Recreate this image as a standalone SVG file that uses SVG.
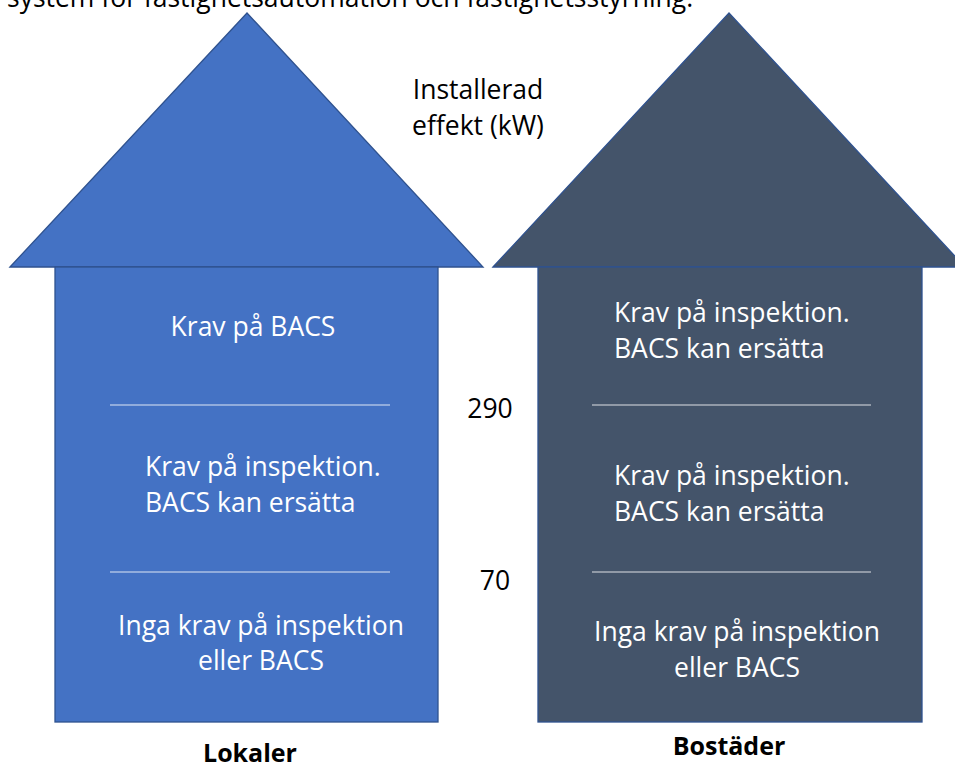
<svg xmlns="http://www.w3.org/2000/svg" width="955" height="766" viewBox="0 0 955 766">
  <style>
    .t { font-family: "Open Sans", "Liberation Sans", sans-serif; font-size: 26.5px; }
    .w { fill: #ffffff; }
    .k { fill: #000000; }
    .c { text-anchor: middle; }
    .b { font-weight: bold; font-size: 25px; }
    .lok { fill: #4472C4; stroke: #2F528F; stroke-width: 1.3; }
    .bos { fill: #44546A; stroke: #2F528F; stroke-width: 1.3; }
    .div { stroke: #ffffff; stroke-opacity: 0.55; stroke-width: 1.5; }
  </style>

  <!-- caption line running off the top edge -->
  <text class="t k" x="7" y="7">system för fastighetsautomation och fastighetsstyrning.</text>

  <!-- commercial premises -->
  <g id="lokaler">
    <polygon class="lok" points="10,267 247,13 483,267"/>
    <rect class="lok" x="55" y="267" width="383" height="455"/>
    <line class="div" x1="110" y1="405" x2="390" y2="405"/>
    <line class="div" x1="110" y1="572" x2="390" y2="572"/>
    <text class="t w c" x="253" y="336">Krav på BACS</text>
    <text class="t w" x="145" y="476">Krav på inspektion.</text>
    <text class="t w" x="145" y="512">BACS kan ersätta</text>
    <text class="t w c" x="261" y="635">Inga krav på inspektion</text>
    <text class="t w c" x="261" y="670">eller BACS</text>
    <text class="t k c b" x="250" y="762">Lokaler</text>
  </g>

  <!-- residential buildings -->
  <g id="bostader">
    <polygon class="bos" points="493,267 729,13 965,267"/>
    <rect class="bos" x="538" y="267" width="384" height="455"/>
    <line class="div" x1="592" y1="405" x2="871" y2="405"/>
    <line class="div" x1="592" y1="572" x2="871" y2="572"/>
    <text class="t w" x="614" y="322">Krav på inspektion.</text>
    <text class="t w" x="614" y="358">BACS kan ersätta</text>
    <text class="t w" x="614" y="485">Krav på inspektion.</text>
    <text class="t w" x="614" y="521">BACS kan ersätta</text>
    <text class="t w c" x="737" y="641">Inga krav på inspektion</text>
    <text class="t w c" x="737" y="677">eller BACS</text>
    <text class="t k c b" x="729" y="755">Bostäder</text>
  </g>

  <!-- installed power scale -->
  <g id="axis">
    <text class="t k c" x="478" y="99">Installerad</text>
    <text class="t k c" x="478" y="135">effekt (kW)</text>
    <text class="t k c" x="490" y="418">290</text>
    <text class="t k c" x="495" y="590">70</text>
  </g>
</svg>
